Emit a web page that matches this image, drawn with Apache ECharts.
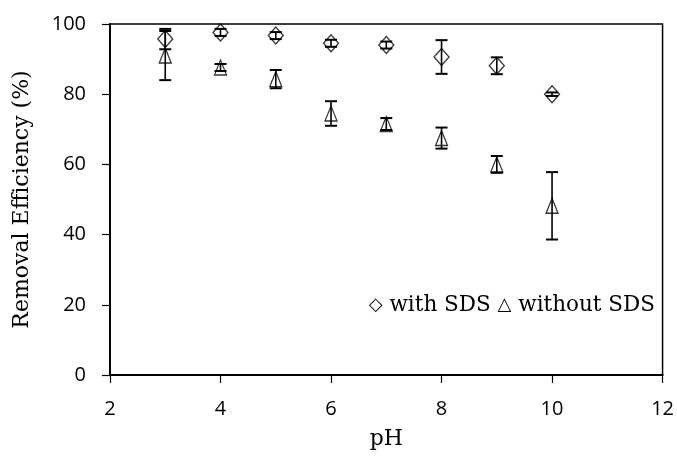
<!DOCTYPE html>
<html lang="en">
<head>
<meta charset="UTF-8">
<title>Removal efficiency vs pH</title>
<script src="https://cdn.jsdelivr.net/npm/echarts@6/dist/echarts.min.js"></script>
<style>
  html, body { margin: 0; padding: 0; background: #fff; }
  #main { width: 677px; height: 461px; }
</style>
</head>
<body>
<div id="main"></div>
<script>
// pH values of the measurements
var phValues = [3, 4, 5, 6, 7, 8, 9, 10];
// removal efficiency (%) with SDS and its error
var withSDS = [95.7, 97.6, 96.7, 94.5, 94.0, 90.6, 88.1, 80.0];
var withSDSErr = [2.9, 1.0, 1.0, 1.0, 1.0, 4.8, 2.4, 0.5];
// removal efficiency (%) without SDS and its error
var withoutSDS = [91.0, 87.6, 84.3, 74.5, 71.5, 67.5, 60.0, 48.2];
var withoutSDSErr = [7.0, 1.0, 2.6, 3.5, 1.7, 3.0, 2.4, 9.6];

var xTicks = [2, 4, 6, 8, 10, 12];
var yTicks = [0, 20, 40, 60, 80, 100];

function points(ys) {
    return phValues.map(function (x, i) { return [x, ys[i]]; });
}
function errRows(ys, errs) {
    return phValues.map(function (x, i) { return [x, ys[i] - errs[i], ys[i] + errs[i]]; });
}

function renderErr(params, api) {
    var lo = api.coord([api.value(0), api.value(1)]);
    var hi = api.coord([api.value(0), api.value(2)]);
    var half = 6;
    var cap = { stroke: '#000', lineWidth: 2 };
    return {
        type: 'group',
        children: [
            { type: 'line', shape: { x1: lo[0], y1: lo[1], x2: hi[0], y2: hi[1] }, style: { stroke: '#000', lineWidth: 1.6 } },
            { type: 'line', shape: { x1: lo[0] - half, y1: lo[1], x2: lo[0] + half, y2: lo[1] }, style: cap },
            { type: 'line', shape: { x1: hi[0] - half, y1: hi[1], x2: hi[0] + half, y2: hi[1] }, style: cap }
        ]
    };
}

var chart = echarts.init(document.getElementById('main'));

var option = {
    backgroundColor: '#fff',
    animation: false,
    grid: {
        left: 110, right: 12, top: 24, bottom: 86,
        show: true, borderColor: '#000', borderWidth: 1.5
    },
    xAxis: {
        type: 'value',
        min: xTicks[0], max: xTicks[xTicks.length - 1], interval: 2,
        name: 'pH', nameLocation: 'middle', nameGap: 53,
        nameTextStyle: { fontFamily: 'DejaVu Serif', fontSize: 22, color: '#000' },
        axisLine: { lineStyle: { color: '#000', width: 2 } },
        axisTick: { show: true, length: 8, lineStyle: { color: '#000', width: 1.2 } },
        axisLabel: { color: '#000', fontFamily: 'Open Sans', fontSize: 20, margin: 24 },
        splitLine: { show: false }
    },
    yAxis: {
        type: 'value',
        min: yTicks[0], max: yTicks[yTicks.length - 1], interval: 20,
        name: 'Removal Efficiency (%)', nameLocation: 'middle', nameGap: 77,
        nameTextStyle: { fontFamily: 'DejaVu Serif', fontSize: 22, color: '#000' },
        axisLine: { show: true, lineStyle: { color: '#000', width: 2 } },
        axisTick: { show: true, length: 8, lineStyle: { color: '#000', width: 1.2 } },
        axisLabel: { color: '#000', fontFamily: 'Open Sans', fontSize: 20, margin: 24 },
        splitLine: { show: false }
    },
    graphic: [{
        type: 'text',
        right: 22, top: 294,
        style: {
            text: '{s|\u25C7} with SDS {s|\u25B3} without SDS',
            fontFamily: 'DejaVu Serif', fontSize: 21.5, fill: '#000',
            rich: {
                s: { fontFamily: 'DejaVu Sans', fontSize: 18, fill: '#000' }
            }
        }
    }],
    series: [
        {
            name: 'with SDS err', type: 'custom', renderItem: renderErr,
            data: errRows(withSDS, withSDSErr), z: 3
        },
        {
            name: 'without SDS err', type: 'custom', renderItem: renderErr,
            data: errRows(withoutSDS, withoutSDSErr), z: 3
        },
        {
            name: 'with SDS', type: 'scatter', symbol: 'diamond', symbolSize: [15, 17],
            itemStyle: { color: 'transparent', borderColor: '#000', borderWidth: 1.3 },
            data: points(withSDS), z: 4
        },
        {
            name: 'without SDS', type: 'scatter', symbol: 'triangle', symbolSize: [12, 15],
            itemStyle: { color: 'transparent', borderColor: '#000', borderWidth: 1.3 },
            data: points(withoutSDS), z: 4
        }
    ]
};

chart.setOption(option);
window.onresize = function () {
    chart.resize();
};
</script>
</body>
</html>
